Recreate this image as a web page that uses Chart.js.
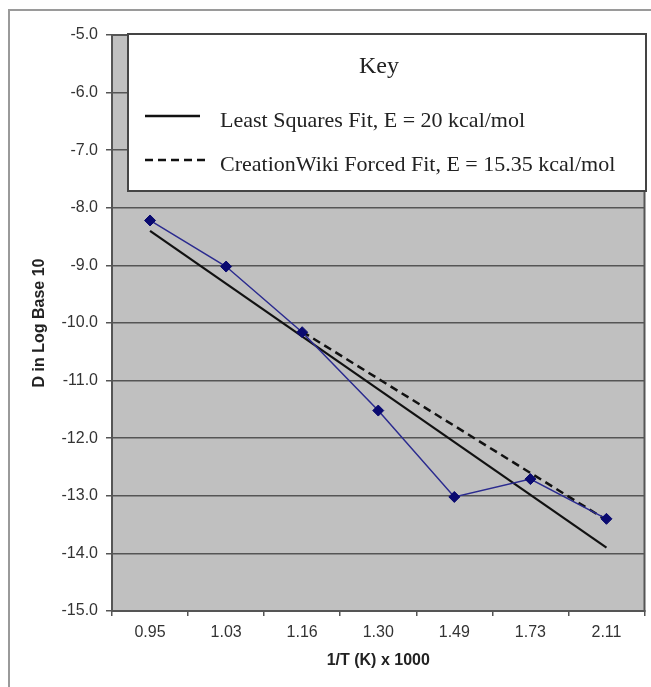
<!DOCTYPE html>
<html>
<head>
<meta charset="utf-8">
<script src="https://cdn.jsdelivr.net/npm/chart.js@4"></script>
<style>
  html, body { margin: 0; padding: 0; background: #fff; }
  #wrap { width: 651px; height: 687px; position: relative; }
</style>
</head>
<body>
<div id="wrap"><canvas id="c" width="651" height="687"></canvas></div>
<script>
const categories = ['0.95', '1.03', '1.16', '1.30', '1.49', '1.73', '2.11'];
const measured = [-8.22, -9.02, -10.16, -11.52, -13.02, -12.71, -13.40];
const leastSquares = [-8.40, null, null, null, null, null, -13.90];
const forcedFit = [null, null, -10.15, null, null, null, -13.42];
const yMin = -15, yMax = -5, yStep = 1;
const keyTitle = 'Key';
const keyItems = ['Least Squares Fit, E = 20 kcal/mol', 'CreationWiki Forced Fit, E = 15.35 kcal/mol'];
const xTitle = '1/T (K) x 1000';
const yTitle = 'D in Log Base 10';

const framePlugin = {
  id: 'frame',
  beforeDraw(chart) {
    const ctx = chart.ctx, a = chart.chartArea;
    ctx.save();
    ctx.fillStyle = '#ffffff';
    ctx.fillRect(0, 0, chart.width, chart.height);
    ctx.strokeStyle = '#9a9a9a';
    ctx.lineWidth = 2;
    ctx.beginPath();
    ctx.moveTo(9, chart.height + 2);
    ctx.lineTo(9, 10);
    ctx.lineTo(chart.width + 2, 10);
    ctx.stroke();
    ctx.fillStyle = '#c0c0c0';
    ctx.fillRect(a.left, a.top, a.right - a.left, a.bottom - a.top);
    ctx.restore();
  },
  beforeDatasetsDraw(chart) {
    const ctx = chart.ctx, a = chart.chartArea;
    ctx.save();
    ctx.strokeStyle = '#555555';
    ctx.lineWidth = 2;
    ctx.strokeRect(a.left, a.top, a.right - a.left, a.bottom - a.top);
    ctx.restore();
  },
  afterDraw(chart) {
    const ctx = chart.ctx;
    const bx = 128, by = 34, bw = 518, bh = 157;
    ctx.save();
    ctx.fillStyle = '#ffffff';
    ctx.fillRect(bx, by, bw, bh);
    ctx.strokeStyle = '#444444';
    ctx.lineWidth = 2;
    ctx.strokeRect(bx, by, bw, bh);
    ctx.fillStyle = '#222222';
    ctx.textBaseline = 'alphabetic';
    ctx.textAlign = 'center';
    ctx.font = '24px "Liberation Serif", "Times New Roman", serif';
    ctx.fillText(keyTitle, 379, 73);
    ctx.textAlign = 'left';
    ctx.font = '22px "Liberation Serif", "Times New Roman", serif';
    ctx.fillText(keyItems[0], 220, 127);
    ctx.fillText(keyItems[1], 220, 171);
    ctx.strokeStyle = '#111111';
    ctx.lineWidth = 2.5;
    ctx.beginPath();
    ctx.moveTo(145, 116); ctx.lineTo(200, 116);
    ctx.stroke();
    ctx.setLineDash([8, 5]);
    ctx.beginPath();
    ctx.moveTo(145, 160); ctx.lineTo(208, 160);
    ctx.stroke();
    ctx.restore();
  }
};

const tickFont = { family: '"Liberation Sans", Arial, sans-serif', size: 16 };
const titleFont = { family: '"Liberation Sans", Arial, sans-serif', size: 16, weight: 'bold' };

new Chart(document.getElementById('c'), {
  type: 'line',
  data: {
    labels: categories,
    datasets: [
      {
        data: measured,
        borderColor: '#2b2b8f',
        backgroundColor: '#0a0a70',
        borderWidth: 1.5,
        pointStyle: 'rectRot',
        pointRadius: 5.5,
        pointBorderWidth: 1,
        pointBorderColor: '#0a0a70',
        tension: 0
      },
      {
        data: leastSquares,
        borderColor: '#111111',
        borderWidth: 2.2,
        pointRadius: 0,
        spanGaps: true,
        tension: 0
      },
      {
        data: forcedFit,
        borderColor: '#111111',
        borderWidth: 2.5,
        borderDash: [8, 5],
        pointRadius: 0,
        spanGaps: true,
        tension: 0
      }
    ]
  },
  options: {
    responsive: false,
    animation: false,
    events: [],
    layout: { padding: { top: 35, right: 5, left: 0, bottom: 0 } },
    plugins: { legend: { display: false }, tooltip: { enabled: false } },
    scales: {
      x: {
        offset: true,
        afterFit: (s) => { s.height = 76; },
        grid: { offset: true, drawOnChartArea: false, drawTicks: true, tickLength: 5, color: '#555555', lineWidth: 1.5 },
        border: { display: true, color: '#555555', width: 2 },
        ticks: { color: '#333333', padding: 7, font: tickFont },
        title: {
          display: true, text: xTitle, color: '#222222',
          padding: { top: 17, bottom: 17 },
          font: titleFont
        }
      },
      y: {
        min: yMin, max: yMax,
        afterFit: (s) => { s.width = 112; },
        grid: { color: '#555555', lineWidth: 1.5, drawTicks: true, tickLength: 6 },
        border: { display: true, color: '#555555', width: 2 },
        ticks: {
          stepSize: yStep, color: '#333333', padding: 8,
          font: tickFont,
          callback: (v) => Number(v).toFixed(1)
        },
        title: {
          display: true, text: yTitle, color: '#222222',
          padding: { top: 30, bottom: 30 },
          font: titleFont
        }
      }
    }
  },
  plugins: [framePlugin]
});
</script>
</body>
</html>
